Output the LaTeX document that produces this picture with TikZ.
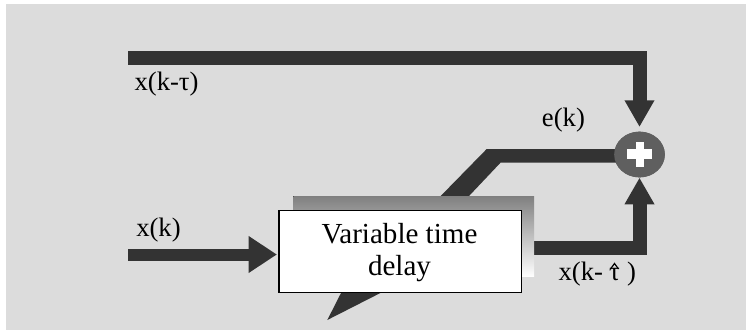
\documentclass[tikz,border=0pt]{standalone}
\usepackage{fontspec}
\setmainfont{Liberation Serif}
\newfontfamily\labelface{Liberation Serif}
\usetikzlibrary{shapes.geometric,arrows.meta}
\definecolor{panel}{HTML}{DCDCDC}
\definecolor{barcol}{HTML}{333333}
\definecolor{shade}{HTML}{5F5F5F}
\begin{document}
\begin{tikzpicture}[x=0.75pt,y=-0.75pt,
  conn/.style={draw=barcol, line width=10.5pt, line join=miter, line cap=butt,
    -{Triangle[width=21pt,length=20pt]}},
  lbl/.style={anchor=base west, inner sep=0pt, font=\labelface\fontsize{20}{24}\selectfont},
  boxtext/.style={anchor=base, align=center, inner sep=0pt, font=\labelface\fontsize{21.8}{23.8}\selectfont}]
\useasboundingbox (0,0) rectangle (746,333);
\fill[white] (0,0) rectangle (746,333);
\fill[panel] (6,4) rectangle (746,330);

% free ends of the signal paths
\coordinate (xtau) at (128,58);
\coordinate (xin) at (128,254.5);
\coordinate (xhat) at (525,248.3);

% summing junction
\node[ellipse, fill=shade, minimum width=38pt, minimum height=34.3pt, inner sep=0pt] (sum) at (639.5,154.5) {};

% error feedback: from the junction, down through the delay block, arrow tip below it
\fill[barcol] (378,260) -- (486.7,149) -- (622,149) -- (622,162.5) -- (500.7,162.5) -- (408.5,260) -- cycle;
\fill[barcol] (327.3,320) -- (363,249.7) -- (397.5,284.3) -- cycle;

% redraw junction over the feedback line, with its plus sign
\node[ellipse, fill=shade, minimum width=38pt, minimum height=34.3pt, inner sep=0pt] at (sum) {};
\fill[white] (627.3,149.3) rectangle (652.3,159.3);
\fill[white] (636,141.7) rectangle (644,167.3);

% delayed estimate into the junction
\draw[conn] (xhat) -| (sum.south);

% reference signal into the junction
\draw[conn, shorten >=3.3pt] (xtau) -| (sum.north);

% delay block with its shadow
\fill[shade] (293.3,196) rectangle (534,276.7);
\node[draw=black, line width=1pt, fill=white, anchor=north west, inner sep=0pt,
      minimum width=181.8pt, minimum height=61.3pt] (delay) at (278.3,210) {};
\node[boxtext] (dtext) at (399.5,275) {Variable time\\delay};

% input
\draw[draw=barcol, line width=9pt, -{Triangle[width=26.25pt,length=21.3pt]}, shorten >=1pt] (xin) -- (delay.west |- xin);

% labels
\node[lbl] (ltau) at (134.3,90) {x(k-τ)};
\node[lbl] (lerr) at (541.7,126.7) {e(k)};
\node[lbl] (lin) at (136,236) {x(k)};
\node[lbl] (lhat) at (558.3,280) {x(k- \phantom{τ} )};
\node[lbl, anchor=base] (ltauhat) at (614.5,280) {τ};
% circumflex over the estimated delay
\draw[line width=0.9pt, line join=miter] (610.5,269) -- (614.5,263.5) -- (618.5,269);
\end{tikzpicture}
\end{document}
